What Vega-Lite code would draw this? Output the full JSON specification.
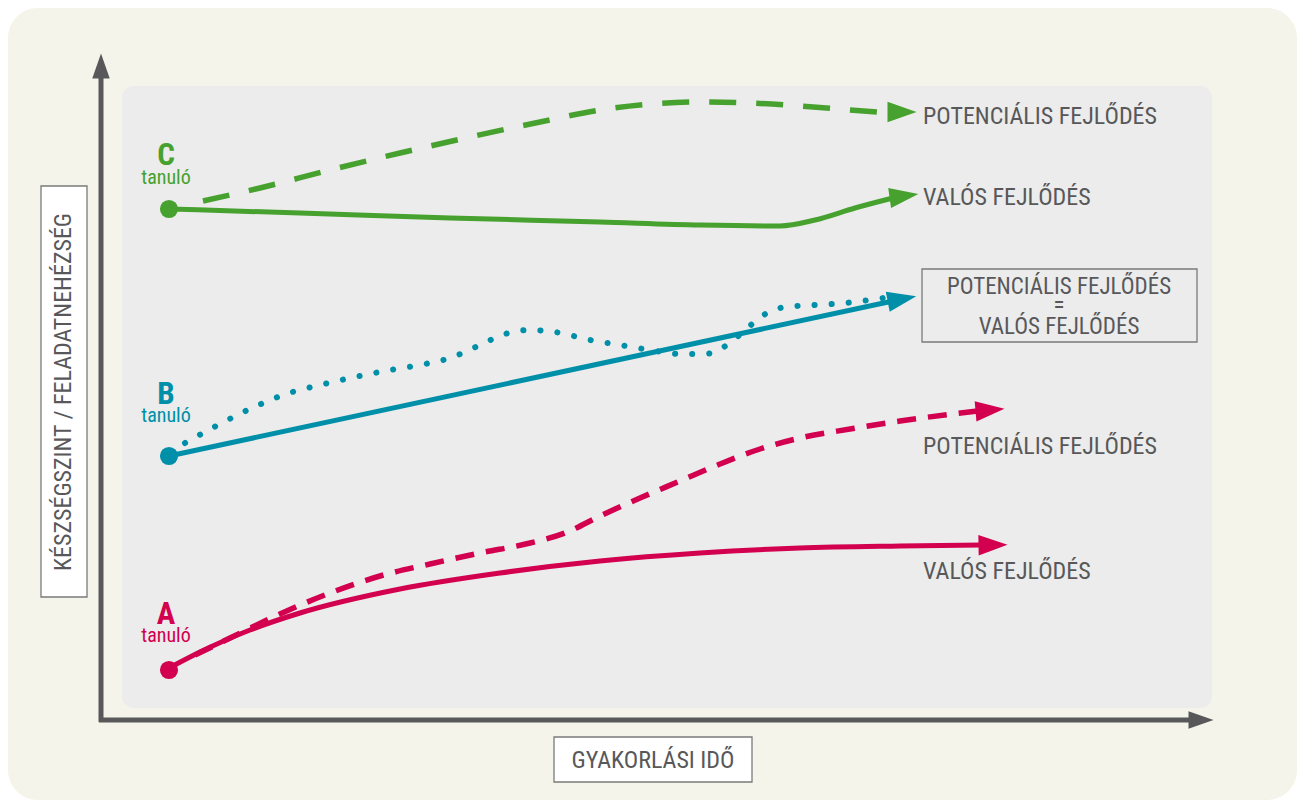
{
  "$schema": "https://vega.github.io/schema/vega-lite/v6.json",
  "width": 1297,
  "height": 802,
  "autosize": {"type": "fit", "contains": "padding"},
  "padding": 0,
  "background": "#ffffff",
  "config": {"view": {"stroke": null}},
  "datasets": {
    "frames": [
      {"name": "bg", "x": 8, "x2": 1297, "y": 8, "y2": 800},
      {"name": "panel", "x": 122, "x2": 1212, "y": 86, "y2": 708},
      {"name": "ybox", "x": 41, "x2": 87, "y": 186, "y2": 597},
      {"name": "xbox", "x": 554, "x2": 752, "y": 737, "y2": 782},
      {"name": "eqbox", "x": 922, "x2": 1197, "y": 269, "y2": 342}
    ],
    "axes": [
      {"name": "y", "x": 101, "x2": 101, "y": 722, "y2": 74},
      {"name": "x", "x": 99, "x2": 1192, "y": 720, "y2": 720}
    ],
    "axisHeads": [
      {"name": "y", "x": 101, "y": 66, "ang": -90},
      {"name": "x", "x": 1201, "y": 720, "ang": 0}
    ],
    "lines": [
      {"s": "C", "kind": "valós", "i": 0, "x": 169, "y": 209},
      {"s": "C", "kind": "valós", "i": 1, "x": 300, "y": 213},
      {"s": "C", "kind": "valós", "i": 2, "x": 450, "y": 218},
      {"s": "C", "kind": "valós", "i": 3, "x": 600, "y": 222},
      {"s": "C", "kind": "valós", "i": 4, "x": 700, "y": 225},
      {"s": "C", "kind": "valós", "i": 5, "x": 780, "y": 226},
      {"s": "C", "kind": "valós", "i": 6, "x": 815, "y": 220},
      {"s": "C", "kind": "valós", "i": 7, "x": 855, "y": 208},
      {"s": "C", "kind": "valós", "i": 8, "x": 893, "y": 198},

      {"s": "C", "kind": "potenciális", "i": 0, "x": 203, "y": 201},
      {"s": "C", "kind": "potenciális", "i": 1, "x": 260, "y": 188},
      {"s": "C", "kind": "potenciális", "i": 2, "x": 330, "y": 170},
      {"s": "C", "kind": "potenciális", "i": 3, "x": 400, "y": 153},
      {"s": "C", "kind": "potenciális", "i": 4, "x": 470, "y": 137},
      {"s": "C", "kind": "potenciális", "i": 5, "x": 540, "y": 122},
      {"s": "C", "kind": "potenciális", "i": 6, "x": 600, "y": 110},
      {"s": "C", "kind": "potenciális", "i": 7, "x": 650, "y": 104},
      {"s": "C", "kind": "potenciális", "i": 8, "x": 700, "y": 102},
      {"s": "C", "kind": "potenciális", "i": 9, "x": 750, "y": 103},
      {"s": "C", "kind": "potenciális", "i": 10, "x": 800, "y": 106},
      {"s": "C", "kind": "potenciális", "i": 11, "x": 850, "y": 110},
      {"s": "C", "kind": "potenciális", "i": 12, "x": 890, "y": 113},

      {"s": "B", "kind": "valós", "i": 0, "x": 169, "y": 456},
      {"s": "B", "kind": "valós", "i": 1, "x": 893, "y": 301},

      {"s": "B", "kind": "potenciális", "i": 0, "x": 185, "y": 443},
      {"s": "B", "kind": "potenciális", "i": 1, "x": 218, "y": 425},
      {"s": "B", "kind": "potenciális", "i": 2, "x": 252, "y": 408},
      {"s": "B", "kind": "potenciális", "i": 3, "x": 286, "y": 394},
      {"s": "B", "kind": "potenciális", "i": 4, "x": 320, "y": 385},
      {"s": "B", "kind": "potenciális", "i": 5, "x": 355, "y": 377},
      {"s": "B", "kind": "potenciális", "i": 6, "x": 390, "y": 370},
      {"s": "B", "kind": "potenciális", "i": 7, "x": 420, "y": 365},
      {"s": "B", "kind": "potenciális", "i": 8, "x": 450, "y": 358},
      {"s": "B", "kind": "potenciális", "i": 9, "x": 480, "y": 345},
      {"s": "B", "kind": "potenciális", "i": 10, "x": 505, "y": 334},
      {"s": "B", "kind": "potenciális", "i": 11, "x": 528, "y": 330},
      {"s": "B", "kind": "potenciális", "i": 12, "x": 555, "y": 332},
      {"s": "B", "kind": "potenciális", "i": 13, "x": 590, "y": 340},
      {"s": "B", "kind": "potenciális", "i": 14, "x": 620, "y": 345},
      {"s": "B", "kind": "potenciális", "i": 15, "x": 650, "y": 350},
      {"s": "B", "kind": "potenciális", "i": 16, "x": 680, "y": 354},
      {"s": "B", "kind": "potenciális", "i": 17, "x": 705, "y": 354},
      {"s": "B", "kind": "potenciális", "i": 18, "x": 722, "y": 348},
      {"s": "B", "kind": "potenciális", "i": 19, "x": 742, "y": 333},
      {"s": "B", "kind": "potenciális", "i": 20, "x": 762, "y": 316},
      {"s": "B", "kind": "potenciális", "i": 21, "x": 785, "y": 307},
      {"s": "B", "kind": "potenciális", "i": 22, "x": 815, "y": 305},
      {"s": "B", "kind": "potenciális", "i": 23, "x": 845, "y": 303},
      {"s": "B", "kind": "potenciális", "i": 24, "x": 870, "y": 300},
      {"s": "B", "kind": "potenciális", "i": 25, "x": 890, "y": 297},

      {"s": "A", "kind": "valós", "i": 0, "x": 169, "y": 668},
      {"s": "A", "kind": "valós", "i": 1, "x": 200, "y": 652},
      {"s": "A", "kind": "valós", "i": 2, "x": 250, "y": 630},
      {"s": "A", "kind": "valós", "i": 3, "x": 300, "y": 613},
      {"s": "A", "kind": "valós", "i": 4, "x": 400, "y": 589},
      {"s": "A", "kind": "valós", "i": 5, "x": 500, "y": 573},
      {"s": "A", "kind": "valós", "i": 6, "x": 600, "y": 561},
      {"s": "A", "kind": "valós", "i": 7, "x": 700, "y": 553},
      {"s": "A", "kind": "valós", "i": 8, "x": 800, "y": 548},
      {"s": "A", "kind": "valós", "i": 9, "x": 900, "y": 546},
      {"s": "A", "kind": "valós", "i": 10, "x": 982, "y": 545},

      {"s": "A", "kind": "potenciális", "i": 0, "x": 195, "y": 655},
      {"s": "A", "kind": "potenciális", "i": 1, "x": 230, "y": 638},
      {"s": "A", "kind": "potenciális", "i": 2, "x": 280, "y": 614},
      {"s": "A", "kind": "potenciális", "i": 3, "x": 330, "y": 593},
      {"s": "A", "kind": "potenciális", "i": 4, "x": 380, "y": 576},
      {"s": "A", "kind": "potenciális", "i": 5, "x": 430, "y": 564},
      {"s": "A", "kind": "potenciális", "i": 6, "x": 480, "y": 553},
      {"s": "A", "kind": "potenciális", "i": 7, "x": 530, "y": 543},
      {"s": "A", "kind": "potenciális", "i": 8, "x": 565, "y": 533},
      {"s": "A", "kind": "potenciális", "i": 9, "x": 600, "y": 516},
      {"s": "A", "kind": "potenciális", "i": 10, "x": 640, "y": 498},
      {"s": "A", "kind": "potenciális", "i": 11, "x": 680, "y": 481},
      {"s": "A", "kind": "potenciális", "i": 12, "x": 720, "y": 464},
      {"s": "A", "kind": "potenciális", "i": 13, "x": 760, "y": 449},
      {"s": "A", "kind": "potenciális", "i": 14, "x": 800, "y": 438},
      {"s": "A", "kind": "potenciális", "i": 15, "x": 850, "y": 429},
      {"s": "A", "kind": "potenciális", "i": 16, "x": 900, "y": 421},
      {"s": "A", "kind": "potenciális", "i": 17, "x": 978, "y": 411}
    ],
    "heads": [
      {"s": "C", "kind": "valós", "x": 904, "y": 196, "ang": -8},
      {"s": "C", "kind": "potenciális", "x": 902, "y": 112, "ang": 0},
      {"s": "B", "kind": "valós", "x": 902, "y": 299, "ang": -11},
      {"s": "A", "kind": "valós", "x": 993, "y": 545, "ang": -1},
      {"s": "A", "kind": "potenciális", "x": 990, "y": 410, "ang": -5}
    ],
    "dots": [
      {"s": "C", "x": 169, "y": 209},
      {"s": "B", "x": 169, "y": 456},
      {"s": "A", "x": 169, "y": 670}
    ],
    "letters": [
      {"s": "C", "t": "C", "x": 166, "y": 165},
      {"s": "B", "t": "B", "x": 166, "y": 404},
      {"s": "A", "t": "A", "x": 166, "y": 624}
    ],
    "tanulo": [
      {"s": "C", "t": "tanuló", "x": 166, "y": 184},
      {"s": "B", "t": "tanuló", "x": 166, "y": 422},
      {"s": "A", "t": "tanuló", "x": 166, "y": 642}
    ],
    "sideLabels": [
      {"t": "POTENCIÁLIS FEJLŐDÉS", "x": 923, "y": 124},
      {"t": "VALÓS FEJLŐDÉS", "x": 923, "y": 205},
      {"t": "POTENCIÁLIS FEJLŐDÉS", "x": 923, "y": 454},
      {"t": "VALÓS FEJLŐDÉS", "x": 923, "y": 579}
    ],
    "boxLabels": [
      {"t": "POTENCIÁLIS FEJLŐDÉS", "x": 1059, "y": 294},
      {"t": "=", "x": 1059, "y": 313},
      {"t": "VALÓS FEJLŐDÉS", "x": 1059, "y": 334}
    ],
    "xTitle": [
      {"t": "GYAKORLÁSI IDŐ", "x": 653, "y": 768}
    ],
    "yTitle": [
      {"t": "KÉSZSÉGSZINT / FELADATNEHÉZSÉG", "x": 64, "y": 392}
    ]
  },
  "layer": [
    {
      "data": {"name": "frames"},
      "transform": [{"filter": "datum.name === 'bg'"}],
      "mark": {"type": "rect", "fill": "#F4F4EA", "cornerRadius": 30},
      "encoding": {
        "x": {"field": "x", "type": "quantitative", "scale": {"domain": [0, 1297], "nice": false, "zero": false}, "axis": null},
        "x2": {"field": "x2"},
        "y": {"field": "y", "type": "quantitative", "scale": {"domain": [0, 802], "nice": false, "zero": false, "reverse": true}, "axis": null},
        "y2": {"field": "y2"}
      }
    },
    {
      "data": {"name": "frames"},
      "transform": [{"filter": "datum.name === 'panel'"}],
      "mark": {"type": "rect", "fill": "#EBECEB", "cornerRadius": 12},
      "encoding": {
        "x": {"field": "x", "type": "quantitative", "axis": null},
        "x2": {"field": "x2"},
        "y": {"field": "y", "type": "quantitative", "axis": null},
        "y2": {"field": "y2"}
      }
    },
    {
      "data": {"name": "frames"},
      "transform": [{"filter": "datum.name === 'ybox' || datum.name === 'xbox'"}],
      "mark": {"type": "rect", "fill": "#ffffff", "stroke": "#7a7a7a", "strokeWidth": 1.3},
      "encoding": {
        "x": {"field": "x", "type": "quantitative", "axis": null},
        "x2": {"field": "x2"},
        "y": {"field": "y", "type": "quantitative", "axis": null},
        "y2": {"field": "y2"}
      }
    },
    {
      "data": {"name": "frames"},
      "transform": [{"filter": "datum.name === 'eqbox'"}],
      "mark": {"type": "rect", "fill": "#EBECEB", "stroke": "#7a7a7a", "strokeWidth": 1.3},
      "encoding": {
        "x": {"field": "x", "type": "quantitative", "axis": null},
        "x2": {"field": "x2"},
        "y": {"field": "y", "type": "quantitative", "axis": null},
        "y2": {"field": "y2"}
      }
    },
    {
      "data": {"name": "axes"},
      "mark": {"type": "rule", "color": "#58585A", "strokeWidth": 5},
      "encoding": {
        "x": {"field": "x", "type": "quantitative", "axis": null},
        "x2": {"field": "x2"},
        "y": {"field": "y", "type": "quantitative", "axis": null},
        "y2": {"field": "y2"}
      }
    },
    {
      "data": {"name": "axisHeads"},
      "mark": {"type": "point", "shape": "M -1 -0.7 L 1 0 L -1 0.7 Z", "filled": true, "opacity": 1, "color": "#58585A", "size": 625},
      "encoding": {
        "x": {"field": "x", "type": "quantitative", "axis": null},
        "y": {"field": "y", "type": "quantitative", "axis": null},
        "angle": {"field": "ang", "type": "quantitative", "scale": null}
      }
    },
    {
      "data": {"name": "lines"},
      "transform": [{"filter": "datum.kind === 'valós'"}],
      "mark": {"type": "line", "interpolate": "monotone", "strokeWidth": 5, "strokeCap": "butt"},
      "encoding": {
        "x": {"field": "x", "type": "quantitative", "axis": null},
        "y": {"field": "y", "type": "quantitative", "axis": null},
        "detail": {"field": "s"},
        "order": {"field": "i", "type": "quantitative"},
        "color": {"field": "s", "type": "nominal", "scale": {"domain": ["A", "B", "C"], "range": ["#D3004F", "#008FA8", "#47A12E"]}, "legend": null}
      }
    },
    {
      "data": {"name": "lines"},
      "transform": [{"filter": "datum.kind === 'potenciális' && datum.s === 'C'"}],
      "mark": {"type": "line", "interpolate": "monotone", "strokeWidth": 5.5, "strokeDash": [27, 20], "strokeCap": "butt"},
      "encoding": {
        "x": {"field": "x", "type": "quantitative", "axis": null},
        "y": {"field": "y", "type": "quantitative", "axis": null},
        "order": {"field": "i", "type": "quantitative"},
        "color": {"field": "s", "type": "nominal", "legend": null}
      }
    },
    {
      "data": {"name": "lines"},
      "transform": [{"filter": "datum.kind === 'potenciális' && datum.s === 'A'"}],
      "mark": {"type": "line", "interpolate": "monotone", "strokeWidth": 5.5, "strokeDash": [19, 12], "strokeCap": "butt"},
      "encoding": {
        "x": {"field": "x", "type": "quantitative", "axis": null},
        "y": {"field": "y", "type": "quantitative", "axis": null},
        "order": {"field": "i", "type": "quantitative"},
        "color": {"field": "s", "type": "nominal", "legend": null}
      }
    },
    {
      "data": {"name": "lines"},
      "transform": [{"filter": "datum.kind === 'potenciális' && datum.s === 'B'"}],
      "mark": {"type": "line", "interpolate": "monotone", "strokeWidth": 6, "strokeDash": [0.1, 17], "strokeCap": "round"},
      "encoding": {
        "x": {"field": "x", "type": "quantitative", "axis": null},
        "y": {"field": "y", "type": "quantitative", "axis": null},
        "order": {"field": "i", "type": "quantitative"},
        "color": {"field": "s", "type": "nominal", "legend": null}
      }
    },
    {
      "data": {"name": "heads"},
      "mark": {"type": "point", "shape": "M -1 -0.7 L 1 0 L -1 0.7 Z", "filled": true, "opacity": 1, "size": 841},
      "encoding": {
        "x": {"field": "x", "type": "quantitative", "axis": null},
        "y": {"field": "y", "type": "quantitative", "axis": null},
        "angle": {"field": "ang", "type": "quantitative", "scale": null},
        "color": {"field": "s", "type": "nominal", "legend": null}
      }
    },
    {
      "data": {"name": "dots"},
      "mark": {"type": "point", "shape": "circle", "filled": true, "opacity": 1, "size": 330},
      "encoding": {
        "x": {"field": "x", "type": "quantitative", "axis": null},
        "y": {"field": "y", "type": "quantitative", "axis": null},
        "color": {"field": "s", "type": "nominal", "legend": null}
      }
    },
    {
      "data": {"name": "letters"},
      "mark": {"type": "text", "font": "Liberation Sans Narrow, Roboto Condensed, Roboto, sans-serif", "fontWeight": "bold", "fontSize": 31, "align": "center", "baseline": "alphabetic"},
      "encoding": {
        "x": {"field": "x", "type": "quantitative", "axis": null},
        "y": {"field": "y", "type": "quantitative", "axis": null},
        "text": {"field": "t"},
        "color": {"field": "s", "type": "nominal", "legend": null}
      }
    },
    {
      "data": {"name": "tanulo"},
      "mark": {"type": "text", "font": "Liberation Sans Narrow, Roboto Condensed, Roboto, sans-serif", "fontSize": 20, "align": "center", "baseline": "alphabetic"},
      "encoding": {
        "x": {"field": "x", "type": "quantitative", "axis": null},
        "y": {"field": "y", "type": "quantitative", "axis": null},
        "text": {"field": "t"},
        "color": {"field": "s", "type": "nominal", "legend": null}
      }
    },
    {
      "data": {"name": "sideLabels"},
      "mark": {"type": "text", "font": "Liberation Sans Narrow, Roboto Condensed, Roboto, sans-serif", "fontSize": 24, "align": "left", "baseline": "alphabetic", "color": "#58585A"},
      "encoding": {
        "x": {"field": "x", "type": "quantitative", "axis": null},
        "y": {"field": "y", "type": "quantitative", "axis": null},
        "text": {"field": "t"}
      }
    },
    {
      "data": {"name": "boxLabels"},
      "mark": {"type": "text", "font": "Liberation Sans Narrow, Roboto Condensed, Roboto, sans-serif", "fontSize": 23, "align": "center", "baseline": "alphabetic", "color": "#58585A"},
      "encoding": {
        "x": {"field": "x", "type": "quantitative", "axis": null},
        "y": {"field": "y", "type": "quantitative", "axis": null},
        "text": {"field": "t"}
      }
    },
    {
      "data": {"name": "xTitle"},
      "mark": {"type": "text", "font": "Liberation Sans Narrow, Roboto Condensed, Roboto, sans-serif", "fontSize": 24, "align": "center", "baseline": "alphabetic", "color": "#58585A"},
      "encoding": {
        "x": {"field": "x", "type": "quantitative", "axis": null},
        "y": {"field": "y", "type": "quantitative", "axis": null},
        "text": {"field": "t"}
      }
    },
    {
      "data": {"name": "yTitle"},
      "mark": {"type": "text", "font": "Liberation Sans Narrow, Roboto Condensed, Roboto, sans-serif", "fontSize": 24, "align": "center", "baseline": "middle", "angle": 270, "color": "#58585A"},
      "encoding": {
        "x": {"field": "x", "type": "quantitative", "axis": null},
        "y": {"field": "y", "type": "quantitative", "axis": null},
        "text": {"field": "t"}
      }
    }
  ]
}
